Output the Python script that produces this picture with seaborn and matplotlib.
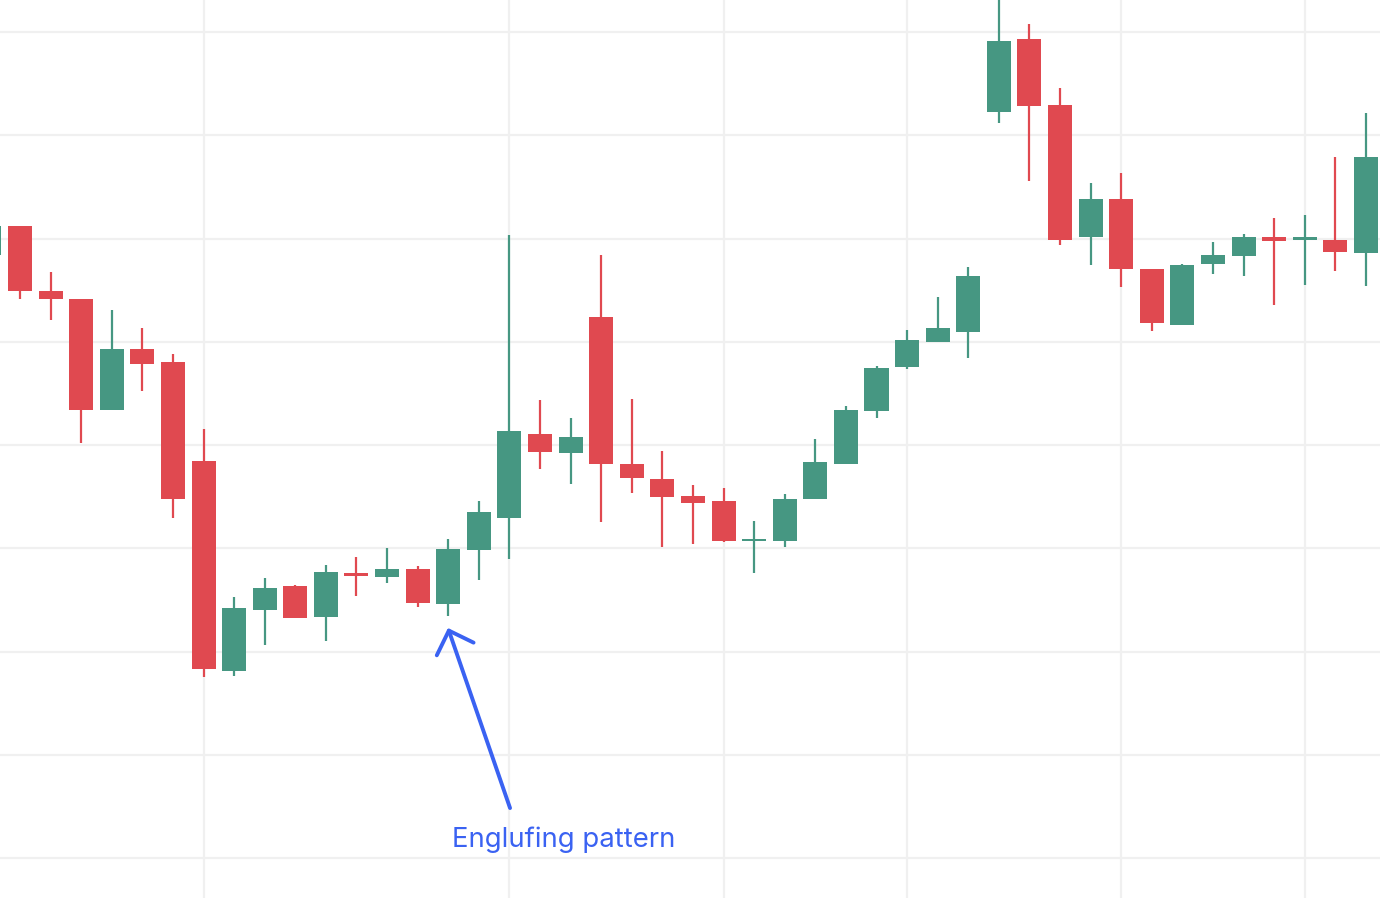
import numpy as np
import pandas as pd
import matplotlib
matplotlib.use("Agg")
import matplotlib.pyplot as plt
import seaborn as sns

# ---- data (OHLC, index -1 is the partially visible first candle) ----
idx = list(range(-1, 45))
opens = [158.4, 161.2, 154.9, 154.1, 143.4, 149.3, 148.0, 138.5, 118.1, 124.0,
         126.3, 123.3, 127.6, 127.2, 128.0, 124.6, 129.8, 132.9, 141.1, 139.2,
         152.4, 138.2, 136.7, 135.1, 134.6, 130.7, 130.7, 134.8, 138.2, 143.3,
         147.6, 150.0, 150.9, 172.3, 179.3, 172.9, 160.1, 163.8, 157.0, 151.6,
         157.5, 158.3, 160.1, 159.9, 159.9, 158.6]
highs = [161.8, 161.2, 156.8, 154.1, 153.1, 151.3, 148.8, 141.6, 125.3, 127.1,
         126.4, 128.4, 129.2, 130.0, 128.3, 130.9, 134.6, 160.3, 144.4, 142.6,
         158.4, 144.5, 139.4, 136.1, 135.8, 132.6, 135.3, 140.6, 143.8, 147.7,
         151.1, 154.3, 157.2, 184.1, 180.8, 174.6, 165.4, 166.3, 157.0, 157.5,
         159.7, 160.4, 162.0, 162.3, 167.9, 172.2]
lows = [157.8, 154.1, 152.1, 140.2, 143.4, 145.2, 132.9, 117.5, 117.6, 120.6,
        123.2, 121.0, 125.4, 126.6, 124.3, 123.4, 126.9, 129.0, 137.7, 136.2,
        132.5, 135.4, 130.1, 130.4, 130.6, 127.6, 130.1, 134.8, 138.2, 142.6,
        147.4, 150.0, 148.4, 171.2, 165.6, 159.4, 157.4, 155.3, 151.0, 151.6,
        156.6, 156.4, 153.6, 155.5, 156.9, 155.4]
closes = [161.2, 154.9, 154.1, 143.4, 149.3, 147.8, 134.8, 118.3, 124.2, 126.2,
          123.2, 127.7, 127.3, 128.0, 124.7, 129.9, 133.5, 141.4, 139.3, 140.8,
          138.2, 136.8, 135.0, 134.4, 130.7, 130.9, 134.8, 138.4, 143.4, 147.5,
          150.2, 151.3, 156.4, 179.1, 172.8, 159.9, 163.8, 157.0, 151.8, 157.4,
          158.4, 160.1, 159.8, 160.1, 158.7, 167.9]
price_grid = [100, 110, 120, 130, 140, 150, 160, 170, 180]
period_breaks = [6, 16, 23, 29, 36, 42]
annotation_text = "Englufing pattern"

df = pd.DataFrame({"i": idx, "open": opens, "high": highs, "low": lows, "close": closes})
df["up"] = df["close"] >= df["open"]

UP = "#469782"
DOWN = "#E04950"
BLUE = "#3A62F2"
GRID = "#F0F0F0"

sns.set_theme(style="white")
plt.rcParams["font.family"] = ["Inter", "DejaVu Sans"]

fig = plt.figure(figsize=(13.8, 8.98), dpi=100)
ax = fig.add_axes([0, 0, 1, 1])

# grid
for p in price_grid:
    ax.axhline(p, color=GRID, lw=1.6, zorder=0)
for b in period_breaks:
    ax.axvline(b, color=GRID, lw=1.6, zorder=0)

colors = np.where(df["up"], UP, DOWN)
# wicks
ax.vlines(df["i"], df["low"], df["high"], colors=colors, lw=1.6, zorder=2)
# bodies
bottom = np.minimum(df["open"], df["close"])
height = np.maximum(np.abs(df["close"] - df["open"]), 0.15)
ax.bar(df["i"], height, bottom=bottom, width=0.785, color=colors, linewidth=0, zorder=3)

ax.set_xlim(-0.654, 44.46)
ax.set_ylim(96.13, 183.10)
ax.set_xticks([])
ax.set_yticks([])
for s in ax.spines.values():
    s.set_visible(False)

ax.annotate("", xy=(13.99, 122.28), xytext=(16.02, 104.84),
            arrowprops=dict(arrowstyle="->,head_length=0.7,head_width=0.7",
                            color=BLUE, lw=2.8, mutation_scale=20,
                            shrinkA=0, shrinkB=0))
ax.text(17.78, 101.07, annotation_text, color=BLUE, fontsize=19.8,
        ha="center", va="baseline")

fig.savefig("out.png", dpi=100)
